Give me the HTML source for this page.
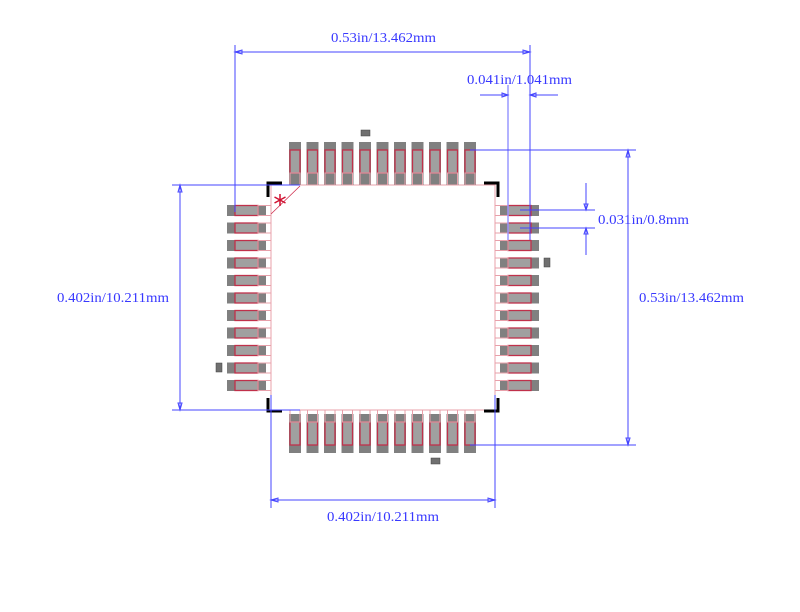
<!DOCTYPE html>
<html><head><meta charset="utf-8"><style>html,body{margin:0;padding:0;background:#fff}svg{display:block}</style></head>
<body>
<svg width="800" height="612" viewBox="0 0 800 612" xmlns="http://www.w3.org/2000/svg">
<defs>
<g id="tp">
<rect x="-6" y="142" width="12" height="43" fill="#808080"/>
<rect x="-5" y="150" width="10" height="23" fill="#a0a0a0" stroke="#c0304a" stroke-width="1.3"/>
<rect x="-5" y="173" width="10" height="12" fill="none" stroke="#e8a0aa" stroke-width="1"/>
</g>
<g id="bp">
<rect x="-6" y="414" width="12" height="39" fill="#808080"/>
<rect x="-5" y="422" width="10" height="23" fill="#a0a0a0" stroke="#c0304a" stroke-width="1.3"/>
<rect x="-5" y="410" width="10" height="12" fill="none" stroke="#e8a0aa" stroke-width="1"/>
</g>
<g id="lp">
<rect x="227" y="-5.5" width="39" height="11" fill="#808080"/>
<rect x="235" y="-5" width="23" height="10" fill="#a0a0a0" stroke="#c0304a" stroke-width="1.3"/>
<rect x="258" y="-5" width="13" height="10" fill="none" stroke="#e8a0aa" stroke-width="1"/>
</g>
<g id="rp">
<rect x="500" y="-5.5" width="39" height="11" fill="#808080"/>
<rect x="508" y="-5" width="23" height="10" fill="#a0a0a0" stroke="#c0304a" stroke-width="1.3"/>
<rect x="495" y="-5" width="13" height="10" fill="none" stroke="#e8a0aa" stroke-width="1"/>
</g>
</defs>

<rect x="271" y="185" width="224" height="225" fill="none" stroke="#eaa0ab" stroke-width="1"/>

<g>
<use href="#tp" x="295"/><use href="#tp" x="312.5"/><use href="#tp" x="330"/><use href="#tp" x="347.5"/><use href="#tp" x="365"/><use href="#tp" x="382.5"/><use href="#tp" x="400"/><use href="#tp" x="417.5"/><use href="#tp" x="435"/><use href="#tp" x="452.5"/><use href="#tp" x="470"/>
<use href="#bp" x="295"/><use href="#bp" x="312.5"/><use href="#bp" x="330"/><use href="#bp" x="347.5"/><use href="#bp" x="365"/><use href="#bp" x="382.5"/><use href="#bp" x="400"/><use href="#bp" x="417.5"/><use href="#bp" x="435"/><use href="#bp" x="452.5"/><use href="#bp" x="470"/>
<use href="#lp" y="210.5"/><use href="#lp" y="228"/><use href="#lp" y="245.5"/><use href="#lp" y="263"/><use href="#lp" y="280.5"/><use href="#lp" y="298"/><use href="#lp" y="315.5"/><use href="#lp" y="333"/><use href="#lp" y="350.5"/><use href="#lp" y="368"/><use href="#lp" y="385.5"/>
<use href="#rp" y="210.5"/><use href="#rp" y="228"/><use href="#rp" y="245.5"/><use href="#rp" y="263"/><use href="#rp" y="280.5"/><use href="#rp" y="298"/><use href="#rp" y="315.5"/><use href="#rp" y="333"/><use href="#rp" y="350.5"/><use href="#rp" y="368"/><use href="#rp" y="385.5"/>
</g>

<rect x="361" y="130" width="9" height="6" fill="#707070" stroke="#404040" stroke-width="0.5"/>
<rect x="544" y="258" width="6" height="9" fill="#707070" stroke="#404040" stroke-width="0.5"/>
<rect x="216" y="363" width="6" height="9" fill="#707070" stroke="#404040" stroke-width="0.5"/>
<rect x="431" y="458" width="9" height="6" fill="#707070" stroke="#404040" stroke-width="0.5"/>

<g stroke="#000" stroke-width="3" fill="none">
<polyline points="268,197 268,183 282,183"/>
<polyline points="484,183 498,183 498,197"/>
<polyline points="268,398 268,411 282,411"/>
<polyline points="484,411 498,411 498,398"/>
</g>

<line x1="271" y1="214" x2="300" y2="186" stroke="#d03050" stroke-width="0.8"/>
<g stroke="#d01030" stroke-width="1.5">
<line x1="280" y1="194" x2="280" y2="206"/>
<line x1="274.5" y1="197" x2="285.5" y2="203"/>
<line x1="274.5" y1="203" x2="285.5" y2="197"/>
</g>

<g stroke="#4444ff" stroke-width="1" fill="none">
<line x1="235" y1="45" x2="235" y2="212"/>
<line x1="530" y1="45" x2="530" y2="212"/>
<line x1="235" y1="52" x2="530" y2="52"/>
<polygon points="235,52 242,50 242,54"/><polygon points="530,52 523,50 523,54"/>

<line x1="508" y1="85" x2="508" y2="240" stroke="#9999ff" stroke-width="1.5"/>
<line x1="530" y1="85" x2="530" y2="240"/>
<line x1="480" y1="95" x2="508" y2="95"/><polygon points="508,95 502,93 502,97"/>
<line x1="530" y1="95" x2="558" y2="95"/><polygon points="530,95 536,93 536,97"/>

<line x1="520" y1="210" x2="595" y2="210"/>
<line x1="520" y1="228" x2="595" y2="228"/>
<line x1="586" y1="183" x2="586" y2="210"/><polygon points="586,210 584,204 588,204"/>
<line x1="586" y1="228" x2="586" y2="255"/><polygon points="586,228 584,234 588,234"/>

<line x1="470" y1="150" x2="636" y2="150"/>
<line x1="470" y1="445" x2="636" y2="445"/>
<line x1="628" y1="150" x2="628" y2="445"/>
<polygon points="628,150 626,157 630,157"/><polygon points="628,445 626,438 630,438"/>

<line x1="172" y1="185" x2="300" y2="185"/>
<line x1="172" y1="410" x2="300" y2="410"/>
<line x1="180" y1="185" x2="180" y2="410"/>
<polygon points="180,185 178,192 182,192"/><polygon points="180,410 178,403 182,403"/>

<line x1="271" y1="395" x2="271" y2="508"/>
<line x1="495" y1="395" x2="495" y2="508"/>
<line x1="271" y1="500" x2="495" y2="500"/>
<polygon points="271,500 278,498 278,502"/><polygon points="495,500 488,498 488,502"/>
</g>

<g fill="#3838ff" font-family="'Liberation Serif', serif" font-size="14">
<text x="331" y="42" textLength="105" lengthAdjust="spacingAndGlyphs">0.53in/13.462mm</text>
<text x="467" y="84" textLength="105" lengthAdjust="spacingAndGlyphs">0.041in/1.041mm</text>
<text x="598" y="224" textLength="91" lengthAdjust="spacingAndGlyphs">0.031in/0.8mm</text>
<text x="639" y="302" textLength="105" lengthAdjust="spacingAndGlyphs">0.53in/13.462mm</text>
<text x="57" y="302" textLength="112" lengthAdjust="spacingAndGlyphs">0.402in/10.211mm</text>
<text x="327" y="521" textLength="112" lengthAdjust="spacingAndGlyphs">0.402in/10.211mm</text>
</g>
</svg>
</body></html>
